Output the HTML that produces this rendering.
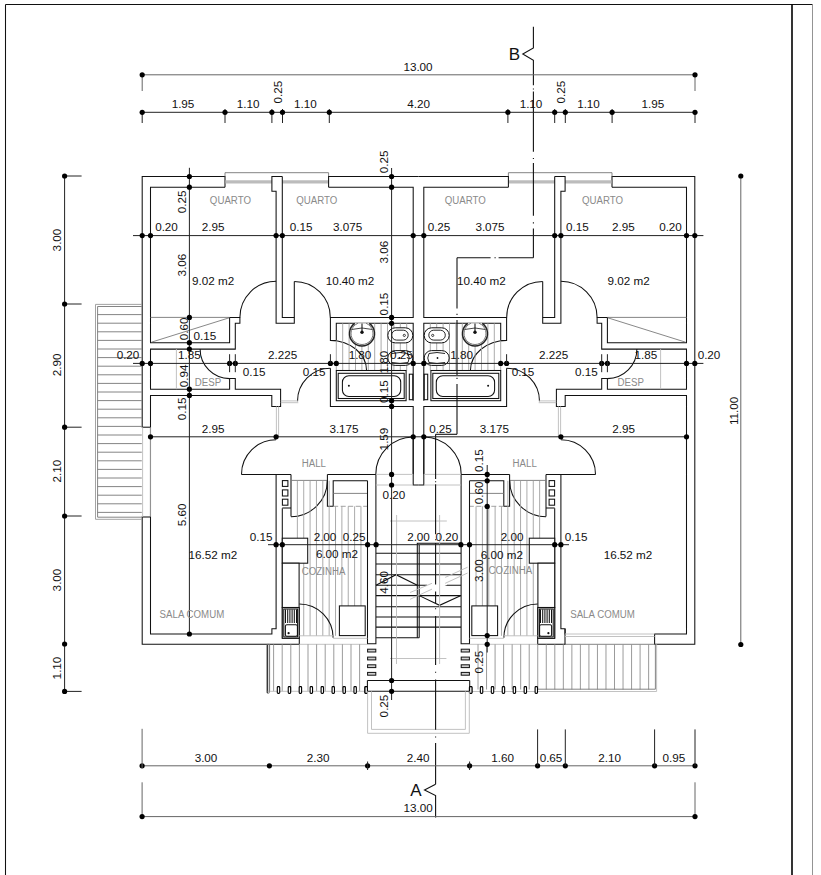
<!DOCTYPE html>
<html><head><meta charset="utf-8"><style>
html,body{margin:0;padding:0;background:#fff;}
svg{display:block;}
.w{fill:none;stroke:#111;stroke-width:1.05;}
.wf{fill:#fff;stroke:#111;stroke-width:1.05;}
.g{fill:none;stroke:#777;stroke-width:0.9;}
.gf{fill:#fff;stroke:#777;stroke-width:0.9;}
.lg{fill:none;stroke:#bbb;stroke-width:0.9;}
.tile{fill:none;stroke:#a2a2a2;stroke-width:0.9;}
.glass{fill:none;stroke:#bcbcbc;stroke-width:3.4;}
.d{fill:none;stroke:#222;stroke-width:1;}
.dg{fill:none;stroke:#666;stroke-width:1;}
.thin{fill:none;stroke:#555;stroke-width:0.7;}
.dot{fill:#000;}
.mg{fill:none;stroke:#999;stroke-width:0.9;}
.hat{fill:none;stroke:#909090;stroke-width:0.9;}
.post{fill:#fff;stroke:#000;stroke-width:1.1;}
.post2{fill:#d0d0d0;stroke:#111;stroke-width:1;}
.sec{fill:none;stroke:#111;stroke-width:1.1;}
text{font-family:"Liberation Sans",sans-serif;}
.t{font-size:11.7px;fill:#111;text-anchor:middle;}
.r{font-size:9.7px;fill:#8a8a8a;text-anchor:middle;}
.big{font-size:17px;fill:#111;text-anchor:middle;}
</style></head>
<body><svg width="821" height="875" viewBox="0 0 821 875">
<g id="m"><path class="w" d="M225,187.2 L225,176.5 L142.2,176.5 L142.2,644.3 L299.3,644.3 L299.3,607.5"/>
<path class="w" d="M225,187.2 L150.5,187.2 L150.5,342.7 L229.6,342.7 L229.6,317.4 L239.9,317.4 L239.9,323.3 L235.3,323.3 L235.3,349.1 L150.5,349.1 L150.5,389.2 L229.6,389.2 L229.6,378.4 L235.3,378.4 L235.3,389.2 L280.6,389.2 L280.6,406.4 L271.8,406.4 L271.8,395.4 L150.5,395.4 L150.5,634 L271.9,634 L271.9,628.7 L276.1,628.7 L276.1,474.4"/>
<line class="g" x1="225" y1="172.7" x2="328.6" y2="172.7"/>
<line class="g" x1="225" y1="172.7" x2="225" y2="176.5"/>
<line class="g" x1="328.6" y1="172.7" x2="328.6" y2="176.5"/>
<line class="glass" x1="225.5" y1="181.9" x2="271.9" y2="181.9"/>
<line class="glass" x1="282.3" y1="181.9" x2="328.1" y2="181.9"/>
<path class="w" d="M282.3,176.5 L271.9,176.5 L271.9,191.2 L276.1,191.2 L276.1,323.3 L294.3,323.3 L294.3,281.4"/>
<path class="w" d="M282.3,176.5 L282.3,317.4 L294.3,317.4"/>
<path class="w" d="M328.6,187.2 L328.6,176.5 L418.5,176.5"/>
<path class="w" d="M328.6,187.2 L413.2,187.2 L413.2,317.4 L330.4,317.4 L330.4,340.4 L336.3,340.4 L336.3,323.3 L413.2,323.3 L413.2,400.7"/>
<path class="w" d="M330.4,368.3 L330.4,406.4 L413.2,406.4 L413.2,485 L418.5,485"/>
<line class="w" x1="413.2" y1="437" x2="413.2" y2="474.4"/>
<path class="w" d="M239.9,317.4 A36.2,36.2 0 0 1 276.1,281.2"/>
<path class="w" d="M294.3,281.4 A36,36 0 0 1 330.3,317.4"/>
<path class="w" d="M229.6,378.6 A29.5,29.5 0 0 1 200.1,349.1"/>
<path class="w" d="M330.4,340.4 A36.2,30.3 0 0 1 366.6,370.7"/>
<line class="tile" x1="336.3" y1="340.4" x2="336.3" y2="370.5"/>
<path class="w" d="M297.5,401.2 A32.9,32.9 0 0 1 330.4,368.3"/>
<line class="lg" x1="280.6" y1="400.9" x2="298.3" y2="400.9"/>
<line class="lg" x1="280.6" y1="402.7" x2="298.3" y2="402.7"/>
<path class="w" d="M375.8,474.4 A37.4,37.4 0 0 1 413.2,437"/>
<line class="lg" x1="276.4" y1="406.4" x2="276.4" y2="436.8"/>
<line class="lg" x1="278.6" y1="406.4" x2="278.6" y2="436.8"/>
<path class="w" d="M241.5,474.4 A34.6,34.6 0 0 1 276.1,439.8"/>
<line class="w" x1="241.5" y1="474.4" x2="291" y2="474.4"/>
<line class="g" x1="150.5" y1="317.4" x2="229.6" y2="317.4"/>
<line class="thin" x1="151.4" y1="342.2" x2="229.2" y2="317.8"/>
<line class="lg" x1="176.4" y1="349.1" x2="176.4" y2="389.2"/>
<line class="w" x1="282.3" y1="508.3" x2="282.3" y2="638.4"/>
<line class="w" x1="282.3" y1="508" x2="291" y2="508"/>
<rect class="w" x="282.4" y="480.6" width="5.5" height="5.8"/>
<rect class="w" x="282.4" y="489.9" width="5.5" height="6.1"/>
<rect class="w" x="282.4" y="499.2" width="5.5" height="6"/>
<line class="w" x1="291" y1="474.4" x2="291" y2="516.5"/>
<path class="w" d="M327.3,480.4 A36.3,36.3 0 0 1 291,516.7"/>
<line class="g" x1="291" y1="480.4" x2="327.4" y2="480.4"/>
<path class="w" d="M327.4,474.4 L375.9,474.4"/>
<path class="w" d="M327.4,474.4 L327.4,506.3 L333.2,506.3 L333.2,480.8 L367.5,480.8"/>
<line class="tile" x1="297.36" y1="480.8" x2="297.36" y2="635.8"/>
<line class="tile" x1="303.72" y1="480.8" x2="303.72" y2="635.8"/>
<line class="tile" x1="310.08" y1="480.8" x2="310.08" y2="635.8"/>
<line class="tile" x1="316.44" y1="480.8" x2="316.44" y2="635.8"/>
<line class="tile" x1="322.8" y1="480.8" x2="322.8" y2="635.8"/>
<line class="tile" x1="329.16" y1="480.8" x2="329.16" y2="635.8"/>
<line class="tile" x1="335.52" y1="506.3" x2="335.52" y2="635.8"/>
<line class="tile" x1="341.88" y1="506.3" x2="341.88" y2="635.8"/>
<line class="tile" x1="348.24" y1="506.3" x2="348.24" y2="635.8"/>
<line class="tile" x1="354.6" y1="506.3" x2="354.6" y2="635.8"/>
<line class="tile" x1="360.96" y1="506.3" x2="360.96" y2="635.8"/>
<line class="g" x1="333.2" y1="493.4" x2="367.5" y2="493.4"/>
<line x1="333.2" y1="506.3" x2="367.5" y2="506.3" style="stroke:#999;stroke-width:0.9;stroke-dasharray:5 2.5"/>
<path class="w" d="M367.5,480.8 L367.5,643.8 L375.9,643.8 L375.9,474.4"/>
<rect class="wf" x="282.3" y="538.2" width="25.4" height="25"/>
<rect class="wf" x="282.3" y="563.2" width="16.8" height="44.3"/>
<rect class="wf" x="282.3" y="607.5" width="16.8" height="30.9"/>
<rect class="w" x="283.8" y="609" width="13.8" height="28"/>
<line class="w" x1="285.5" y1="609.5" x2="285.5" y2="623"/>
<line class="w" x1="287.7" y1="609.5" x2="287.7" y2="623"/>
<line class="w" x1="289.9" y1="609.5" x2="289.9" y2="623"/>
<line class="w" x1="292.1" y1="609.5" x2="292.1" y2="623"/>
<line class="w" x1="294.3" y1="609.5" x2="294.3" y2="623"/>
<line class="w" x1="296.5" y1="609.5" x2="296.5" y2="623"/>
<rect class="w" x="285.4" y="624.7" width="12" height="11.6" rx="1.5"/>
<circle cx="288.6" cy="633.2" r="1.1" fill="#111"/>
<path class="w" d="M299.3,603.9 A33.8,33.8 0 0 1 333.1,637.7"/>
<rect class="wf" x="339.4" y="605.9" width="25.8" height="29.7"/>
<line class="lg" x1="299.3" y1="635.8" x2="333.1" y2="635.8"/>
<line class="lg" x1="333.1" y1="638.3" x2="367.5" y2="638.3"/>
<line class="lg" x1="299.3" y1="644.3" x2="367.5" y2="644.3"/>
<line class="tile" x1="342.7" y1="323.3" x2="342.7" y2="370.5"/>
<line class="tile" x1="349.1" y1="323.3" x2="349.1" y2="370.5"/>
<line class="tile" x1="355.5" y1="323.3" x2="355.5" y2="370.5"/>
<line class="tile" x1="361.9" y1="323.3" x2="361.9" y2="370.5"/>
<line class="tile" x1="368.3" y1="323.3" x2="368.3" y2="370.5"/>
<line class="tile" x1="374.7" y1="323.3" x2="374.7" y2="370.5"/>
<line class="tile" x1="381.1" y1="323.3" x2="381.1" y2="370.5"/>
<line class="tile" x1="387.5" y1="323.3" x2="387.5" y2="370.5"/>
<line class="tile" x1="393.9" y1="323.3" x2="393.9" y2="370.5"/>
<line class="tile" x1="400.3" y1="323.3" x2="400.3" y2="370.5"/>
<line class="tile" x1="406.7" y1="323.3" x2="406.7" y2="370.5"/>
<path d="M354.77,323.3 A12.5,12.5 0 1 0 369.23,323.3" fill="#fff" stroke="#222" stroke-width="1.5"/>
<path d="M357.9,323.3 A11,11 0 1 0 366.1,323.3" fill="none" stroke="#666" stroke-width="0.9"/>
<path d="M351.5,329.5 Q362,326.5 372.5,329.5" fill="none" stroke="#333" stroke-width="0.9"/>
<line class="w" x1="362" y1="323.5" x2="362" y2="331"/>
<circle cx="362" cy="332.2" r="1.7" fill="#111"/>
<rect x="387.8" y="327.8" width="25" height="15.1" rx="7.5" fill="#fff" stroke="#111" stroke-width="1"/>
<rect x="391.7" y="330.2" width="16.5" height="9.9" rx="4.9" fill="none" stroke="#111" stroke-width="0.9"/>
<circle cx="404.3" cy="335.4" r="1.1" fill="none" stroke="#111" stroke-width="0.8"/>
<rect x="387.8" y="350.6" width="25" height="14.8" rx="7.4" fill="#fff" stroke="#111" stroke-width="1"/>
<path d="M392,353.5 Q400,351.5 408,353.5 Q410.5,358 408,362.5 Q400,364.5 392,362.5" fill="none" stroke="#111" stroke-width="0.9"/>
<circle cx="399.5" cy="358" r="0.9" fill="#111"/>
<rect class="wf" x="336.3" y="370.5" width="69.8" height="30.2"/>
<rect class="w" x="338.2" y="373.3" width="66" height="25.2"/>
<rect class="w" x="342.4" y="375.7" width="58.3" height="20.8" rx="6.5"/>
<circle cx="348.9" cy="385.8" r="1" fill="#111"/>
<rect class="w" x="409.3" y="374.2" width="3.5" height="25.5"/>
<line class="lg" x1="375.9" y1="485" x2="413.2" y2="485"/>
<line class="lg" x1="375.9" y1="474.4" x2="413.2" y2="474.4"/>
<rect class="post2" x="367.6" y="649.2" width="8.2" height="2.8"/>
<rect class="post2" x="367.6" y="657.1" width="8.2" height="2.8"/>
<rect class="post2" x="367.6" y="664.8" width="8.2" height="2.8"/>
<rect class="post2" x="367.6" y="672.4" width="8.2" height="2.8"/></g>
<g transform="matrix(-1,0,0,1,837,0)"><path class="w" d="M225,187.2 L225,176.5 L142.2,176.5 L142.2,644.3 L299.3,644.3 L299.3,607.5"/>
<path class="w" d="M225,187.2 L150.5,187.2 L150.5,342.7 L229.6,342.7 L229.6,317.4 L239.9,317.4 L239.9,323.3 L235.3,323.3 L235.3,349.1 L150.5,349.1 L150.5,389.2 L229.6,389.2 L229.6,378.4 L235.3,378.4 L235.3,389.2 L280.6,389.2 L280.6,406.4 L271.8,406.4 L271.8,395.4 L150.5,395.4 L150.5,634 L271.9,634 L271.9,628.7 L276.1,628.7 L276.1,474.4"/>
<line class="g" x1="225" y1="172.7" x2="328.6" y2="172.7"/>
<line class="g" x1="225" y1="172.7" x2="225" y2="176.5"/>
<line class="g" x1="328.6" y1="172.7" x2="328.6" y2="176.5"/>
<line class="glass" x1="225.5" y1="181.9" x2="271.9" y2="181.9"/>
<line class="glass" x1="282.3" y1="181.9" x2="328.1" y2="181.9"/>
<path class="w" d="M282.3,176.5 L271.9,176.5 L271.9,191.2 L276.1,191.2 L276.1,323.3 L294.3,323.3 L294.3,281.4"/>
<path class="w" d="M282.3,176.5 L282.3,317.4 L294.3,317.4"/>
<path class="w" d="M328.6,187.2 L328.6,176.5 L418.5,176.5"/>
<path class="w" d="M328.6,187.2 L413.2,187.2 L413.2,317.4 L330.4,317.4 L330.4,340.4 L336.3,340.4 L336.3,323.3 L413.2,323.3 L413.2,400.7"/>
<path class="w" d="M330.4,368.3 L330.4,406.4 L413.2,406.4 L413.2,485 L418.5,485"/>
<line class="w" x1="413.2" y1="437" x2="413.2" y2="474.4"/>
<path class="w" d="M239.9,317.4 A36.2,36.2 0 0 1 276.1,281.2"/>
<path class="w" d="M294.3,281.4 A36,36 0 0 1 330.3,317.4"/>
<path class="w" d="M229.6,378.6 A29.5,29.5 0 0 1 200.1,349.1"/>
<path class="w" d="M330.4,340.4 A36.2,30.3 0 0 1 366.6,370.7"/>
<line class="tile" x1="336.3" y1="340.4" x2="336.3" y2="370.5"/>
<path class="w" d="M297.5,401.2 A32.9,32.9 0 0 1 330.4,368.3"/>
<line class="lg" x1="280.6" y1="400.9" x2="298.3" y2="400.9"/>
<line class="lg" x1="280.6" y1="402.7" x2="298.3" y2="402.7"/>
<path class="w" d="M375.8,474.4 A37.4,37.4 0 0 1 413.2,437"/>
<line class="lg" x1="276.4" y1="406.4" x2="276.4" y2="436.8"/>
<line class="lg" x1="278.6" y1="406.4" x2="278.6" y2="436.8"/>
<path class="w" d="M241.5,474.4 A34.6,34.6 0 0 1 276.1,439.8"/>
<line class="w" x1="241.5" y1="474.4" x2="291" y2="474.4"/>
<line class="g" x1="150.5" y1="317.4" x2="229.6" y2="317.4"/>
<line class="thin" x1="151.4" y1="342.2" x2="229.2" y2="317.8"/>
<line class="lg" x1="176.4" y1="349.1" x2="176.4" y2="389.2"/>
<line class="w" x1="282.3" y1="508.3" x2="282.3" y2="638.4"/>
<line class="w" x1="282.3" y1="508" x2="291" y2="508"/>
<rect class="w" x="282.4" y="480.6" width="5.5" height="5.8"/>
<rect class="w" x="282.4" y="489.9" width="5.5" height="6.1"/>
<rect class="w" x="282.4" y="499.2" width="5.5" height="6"/>
<line class="w" x1="291" y1="474.4" x2="291" y2="516.5"/>
<path class="w" d="M327.3,480.4 A36.3,36.3 0 0 1 291,516.7"/>
<line class="g" x1="291" y1="480.4" x2="327.4" y2="480.4"/>
<path class="w" d="M327.4,474.4 L375.9,474.4"/>
<path class="w" d="M327.4,474.4 L327.4,506.3 L333.2,506.3 L333.2,480.8 L367.5,480.8"/>
<line class="tile" x1="297.36" y1="480.8" x2="297.36" y2="635.8"/>
<line class="tile" x1="303.72" y1="480.8" x2="303.72" y2="635.8"/>
<line class="tile" x1="310.08" y1="480.8" x2="310.08" y2="635.8"/>
<line class="tile" x1="316.44" y1="480.8" x2="316.44" y2="635.8"/>
<line class="tile" x1="322.8" y1="480.8" x2="322.8" y2="635.8"/>
<line class="tile" x1="329.16" y1="480.8" x2="329.16" y2="635.8"/>
<line class="tile" x1="335.52" y1="506.3" x2="335.52" y2="635.8"/>
<line class="tile" x1="341.88" y1="506.3" x2="341.88" y2="635.8"/>
<line class="tile" x1="348.24" y1="506.3" x2="348.24" y2="635.8"/>
<line class="tile" x1="354.6" y1="506.3" x2="354.6" y2="635.8"/>
<line class="tile" x1="360.96" y1="506.3" x2="360.96" y2="635.8"/>
<line class="g" x1="333.2" y1="493.4" x2="367.5" y2="493.4"/>
<line x1="333.2" y1="506.3" x2="367.5" y2="506.3" style="stroke:#999;stroke-width:0.9;stroke-dasharray:5 2.5"/>
<path class="w" d="M367.5,480.8 L367.5,643.8 L375.9,643.8 L375.9,474.4"/>
<rect class="wf" x="282.3" y="538.2" width="25.4" height="25"/>
<rect class="wf" x="282.3" y="563.2" width="16.8" height="44.3"/>
<rect class="wf" x="282.3" y="607.5" width="16.8" height="30.9"/>
<rect class="w" x="283.8" y="609" width="13.8" height="28"/>
<line class="w" x1="285.5" y1="609.5" x2="285.5" y2="623"/>
<line class="w" x1="287.7" y1="609.5" x2="287.7" y2="623"/>
<line class="w" x1="289.9" y1="609.5" x2="289.9" y2="623"/>
<line class="w" x1="292.1" y1="609.5" x2="292.1" y2="623"/>
<line class="w" x1="294.3" y1="609.5" x2="294.3" y2="623"/>
<line class="w" x1="296.5" y1="609.5" x2="296.5" y2="623"/>
<rect class="w" x="285.4" y="624.7" width="12" height="11.6" rx="1.5"/>
<circle cx="288.6" cy="633.2" r="1.1" fill="#111"/>
<path class="w" d="M299.3,603.9 A33.8,33.8 0 0 1 333.1,637.7"/>
<rect class="wf" x="339.4" y="605.9" width="25.8" height="29.7"/>
<line class="lg" x1="299.3" y1="635.8" x2="333.1" y2="635.8"/>
<line class="lg" x1="333.1" y1="638.3" x2="367.5" y2="638.3"/>
<line class="lg" x1="299.3" y1="644.3" x2="367.5" y2="644.3"/>
<line class="tile" x1="342.7" y1="323.3" x2="342.7" y2="370.5"/>
<line class="tile" x1="349.1" y1="323.3" x2="349.1" y2="370.5"/>
<line class="tile" x1="355.5" y1="323.3" x2="355.5" y2="370.5"/>
<line class="tile" x1="361.9" y1="323.3" x2="361.9" y2="370.5"/>
<line class="tile" x1="368.3" y1="323.3" x2="368.3" y2="370.5"/>
<line class="tile" x1="374.7" y1="323.3" x2="374.7" y2="370.5"/>
<line class="tile" x1="381.1" y1="323.3" x2="381.1" y2="370.5"/>
<line class="tile" x1="387.5" y1="323.3" x2="387.5" y2="370.5"/>
<line class="tile" x1="393.9" y1="323.3" x2="393.9" y2="370.5"/>
<line class="tile" x1="400.3" y1="323.3" x2="400.3" y2="370.5"/>
<line class="tile" x1="406.7" y1="323.3" x2="406.7" y2="370.5"/>
<path d="M354.77,323.3 A12.5,12.5 0 1 0 369.23,323.3" fill="#fff" stroke="#222" stroke-width="1.5"/>
<path d="M357.9,323.3 A11,11 0 1 0 366.1,323.3" fill="none" stroke="#666" stroke-width="0.9"/>
<path d="M351.5,329.5 Q362,326.5 372.5,329.5" fill="none" stroke="#333" stroke-width="0.9"/>
<line class="w" x1="362" y1="323.5" x2="362" y2="331"/>
<circle cx="362" cy="332.2" r="1.7" fill="#111"/>
<rect x="387.8" y="327.8" width="25" height="15.1" rx="7.5" fill="#fff" stroke="#111" stroke-width="1"/>
<rect x="391.7" y="330.2" width="16.5" height="9.9" rx="4.9" fill="none" stroke="#111" stroke-width="0.9"/>
<circle cx="404.3" cy="335.4" r="1.1" fill="none" stroke="#111" stroke-width="0.8"/>
<rect x="387.8" y="350.6" width="25" height="14.8" rx="7.4" fill="#fff" stroke="#111" stroke-width="1"/>
<path d="M392,353.5 Q400,351.5 408,353.5 Q410.5,358 408,362.5 Q400,364.5 392,362.5" fill="none" stroke="#111" stroke-width="0.9"/>
<circle cx="399.5" cy="358" r="0.9" fill="#111"/>
<rect class="wf" x="336.3" y="370.5" width="69.8" height="30.2"/>
<rect class="w" x="338.2" y="373.3" width="66" height="25.2"/>
<rect class="w" x="342.4" y="375.7" width="58.3" height="20.8" rx="6.5"/>
<circle cx="348.9" cy="385.8" r="1" fill="#111"/>
<rect class="w" x="409.3" y="374.2" width="3.5" height="25.5"/>
<line class="lg" x1="375.9" y1="485" x2="413.2" y2="485"/>
<line class="lg" x1="375.9" y1="474.4" x2="413.2" y2="474.4"/>
<rect class="post2" x="367.6" y="649.2" width="8.2" height="2.8"/>
<rect class="post2" x="367.6" y="657.1" width="8.2" height="2.8"/>
<rect class="post2" x="367.6" y="664.8" width="8.2" height="2.8"/>
<rect class="post2" x="367.6" y="672.4" width="8.2" height="2.8"/></g>
<line class="w" x1="5.5" y1="4.5" x2="812.5" y2="4.5"/>
<line class="w" x1="5.5" y1="4.5" x2="5.5" y2="875"/>
<line x1="792" y1="4.5" x2="792" y2="875" style="stroke:#000;stroke-width:1.6"/>
<line x1="812.5" y1="4.5" x2="812.5" y2="875" style="stroke:#888;stroke-width:0.9"/>
<rect x="141" y="427.6" width="10.2" height="88.8" fill="#fff"/>
<line class="w" x1="142.2" y1="427.2" x2="150.5" y2="427.2"/>
<line class="w" x1="142.2" y1="517" x2="150.5" y2="517"/>
<line class="g" x1="150.4" y1="427.2" x2="150.4" y2="517"/>
<line class="lg" x1="142.6" y1="427.2" x2="142.6" y2="517"/>
<path class="mg" d="M141.8,304.4 L95.5,304.4 L95.5,519.3 L141.8,519.3"/>
<path class="g" d="M141.8,306.5 L97.6,306.5 L97.6,517.2 L141.8,517.2"/>
<line class="g" x1="97.6" y1="314.6" x2="141.8" y2="314.6"/>
<line class="g" x1="97.6" y1="323.2" x2="141.8" y2="323.2"/>
<line class="g" x1="97.6" y1="331.8" x2="141.8" y2="331.8"/>
<line class="g" x1="97.6" y1="340.4" x2="141.8" y2="340.4"/>
<line class="g" x1="97.6" y1="349" x2="141.8" y2="349"/>
<line class="g" x1="97.6" y1="357.6" x2="141.8" y2="357.6"/>
<line class="g" x1="97.6" y1="366.2" x2="141.8" y2="366.2"/>
<line class="g" x1="97.6" y1="374.8" x2="141.8" y2="374.8"/>
<line class="g" x1="97.6" y1="383.4" x2="141.8" y2="383.4"/>
<line class="g" x1="97.6" y1="392" x2="141.8" y2="392"/>
<line class="g" x1="97.6" y1="400.6" x2="141.8" y2="400.6"/>
<line class="g" x1="97.6" y1="409.2" x2="141.8" y2="409.2"/>
<line class="g" x1="97.6" y1="417.8" x2="141.8" y2="417.8"/>
<line class="g" x1="97.6" y1="426.4" x2="141.8" y2="426.4"/>
<line class="g" x1="97.6" y1="435" x2="141.8" y2="435"/>
<line class="g" x1="97.6" y1="443.6" x2="141.8" y2="443.6"/>
<line class="g" x1="97.6" y1="452.2" x2="141.8" y2="452.2"/>
<line class="g" x1="97.6" y1="460.8" x2="141.8" y2="460.8"/>
<line class="g" x1="97.6" y1="469.4" x2="141.8" y2="469.4"/>
<line class="g" x1="97.6" y1="478" x2="141.8" y2="478"/>
<line class="g" x1="97.6" y1="486.6" x2="141.8" y2="486.6"/>
<line class="g" x1="97.6" y1="495.2" x2="141.8" y2="495.2"/>
<line class="g" x1="97.6" y1="503.8" x2="141.8" y2="503.8"/>
<line class="g" x1="97.6" y1="512.4" x2="141.8" y2="512.4"/>
<rect x="565.6" y="633" width="88.6" height="12.3" fill="#fff"/>
<line class="w" x1="565" y1="629" x2="565" y2="644.3"/>
<line class="w" x1="654.6" y1="634" x2="654.6" y2="644.3"/>
<line class="lg" x1="565" y1="634" x2="654.6" y2="634"/>
<line class="lg" x1="565" y1="636.5" x2="654.6" y2="636.5"/>
<line class="g" x1="565" y1="644.3" x2="654.6" y2="644.3"/>
<line class="w" x1="267.6" y1="644.3" x2="267.6" y2="693"/>
<line class="g" x1="269.6" y1="644.3" x2="269.6" y2="691.3"/>
<line class="hat" x1="273.6" y1="644.3" x2="273.6" y2="691.3"/>
<line class="hat" x1="282.2" y1="644.3" x2="282.2" y2="691.3"/>
<line class="hat" x1="290.8" y1="644.3" x2="290.8" y2="691.3"/>
<line class="hat" x1="299.4" y1="644.3" x2="299.4" y2="691.3"/>
<line class="hat" x1="308" y1="644.3" x2="308" y2="691.3"/>
<line class="hat" x1="316.6" y1="644.3" x2="316.6" y2="691.3"/>
<line class="hat" x1="325.2" y1="644.3" x2="325.2" y2="691.3"/>
<line class="hat" x1="333.8" y1="644.3" x2="333.8" y2="691.3"/>
<line class="hat" x1="342.4" y1="644.3" x2="342.4" y2="691.3"/>
<line class="hat" x1="351" y1="644.3" x2="351" y2="691.3"/>
<line class="hat" x1="359.6" y1="644.3" x2="359.6" y2="691.3"/>
<line class="lg" x1="267.6" y1="691.3" x2="367.5" y2="691.3"/>
<rect class="post" x="277.3" y="686.6" width="2.4" height="6.8" rx="0.8"/>
<rect class="post" x="288.25" y="686.6" width="2.4" height="6.8" rx="0.8"/>
<rect class="post" x="299.2" y="686.6" width="2.4" height="6.8" rx="0.8"/>
<rect class="post" x="310.15" y="686.6" width="2.4" height="6.8" rx="0.8"/>
<rect class="post" x="321.1" y="686.6" width="2.4" height="6.8" rx="0.8"/>
<rect class="post" x="332.05" y="686.6" width="2.4" height="6.8" rx="0.8"/>
<rect class="post" x="343" y="686.6" width="2.4" height="6.8" rx="0.8"/>
<rect class="post" x="353.95" y="686.6" width="2.4" height="6.8" rx="0.8"/>
<rect class="post" x="364.9" y="686.6" width="2.4" height="6.8" rx="0.8"/>
<rect class="g" x="266.8" y="644.3" width="2.6" height="49" rx="1"/>
<line class="hat" x1="478.03" y1="644.3" x2="478.03" y2="689.5"/>
<line class="hat" x1="486.56" y1="644.3" x2="486.56" y2="689.5"/>
<line class="hat" x1="495.09" y1="644.3" x2="495.09" y2="689.5"/>
<line class="hat" x1="503.62" y1="644.3" x2="503.62" y2="689.5"/>
<line class="hat" x1="512.15" y1="644.3" x2="512.15" y2="689.5"/>
<line class="hat" x1="520.68" y1="644.3" x2="520.68" y2="689.5"/>
<line class="hat" x1="529.21" y1="644.3" x2="529.21" y2="689.5"/>
<line class="hat" x1="537.74" y1="644.3" x2="537.74" y2="689.5"/>
<line class="hat" x1="546.27" y1="644.3" x2="546.27" y2="689.5"/>
<line class="hat" x1="554.8" y1="644.3" x2="554.8" y2="689.5"/>
<line class="hat" x1="563.33" y1="644.3" x2="563.33" y2="689.5"/>
<line class="hat" x1="571.86" y1="644.3" x2="571.86" y2="689.5"/>
<line class="hat" x1="580.39" y1="644.3" x2="580.39" y2="689.5"/>
<line class="hat" x1="588.92" y1="644.3" x2="588.92" y2="689.5"/>
<line class="hat" x1="597.45" y1="644.3" x2="597.45" y2="689.5"/>
<line class="hat" x1="605.98" y1="644.3" x2="605.98" y2="689.5"/>
<line class="hat" x1="614.51" y1="644.3" x2="614.51" y2="689.5"/>
<line class="hat" x1="623.04" y1="644.3" x2="623.04" y2="689.5"/>
<line class="hat" x1="631.57" y1="644.3" x2="631.57" y2="689.5"/>
<line class="hat" x1="640.1" y1="644.3" x2="640.1" y2="689.5"/>
<line class="hat" x1="648.63" y1="644.3" x2="648.63" y2="689.5"/>
<path class="g" d="M537.7,689.2 L655.4,689.2 L655.4,644.3"/>
<path class="lg" d="M469.5,691.5 L656.6,691.5 L656.6,644.3"/>
<rect class="post" x="469.4" y="686.6" width="2.4" height="6.8" rx="0.8"/>
<rect class="post" x="480.35" y="686.6" width="2.4" height="6.8" rx="0.8"/>
<rect class="post" x="491.3" y="686.6" width="2.4" height="6.8" rx="0.8"/>
<rect class="post" x="502.25" y="686.6" width="2.4" height="6.8" rx="0.8"/>
<rect class="post" x="513.2" y="686.6" width="2.4" height="6.8" rx="0.8"/>
<rect class="post" x="524.15" y="686.6" width="2.4" height="6.8" rx="0.8"/>
<rect class="post" x="535.1" y="686.6" width="2.4" height="6.8" rx="0.8"/>
<line class="w" x1="376" y1="553.3" x2="461" y2="553.3"/>
<line class="w" x1="376" y1="564" x2="461" y2="564"/>
<line class="w" x1="376" y1="574.7" x2="461" y2="574.7"/>
<line class="w" x1="376" y1="585.3" x2="461" y2="585.3"/>
<line class="w" x1="376" y1="595.6" x2="461" y2="595.6"/>
<line class="w" x1="376" y1="606.7" x2="461" y2="606.7"/>
<line class="w" x1="376" y1="617" x2="461" y2="617"/>
<line class="w" x1="376" y1="627.1" x2="461" y2="627.1"/>
<line class="w" x1="376" y1="637.8" x2="419.2" y2="637.8"/>
<path class="w" d="M417.3,637.8 L417.3,543.2 L461,543.2"/>
<line class="w" x1="419.2" y1="637.8" x2="419.2" y2="545"/>
<path class="w" d="M376,585.3 L396,574.7 L417.3,585.3"/>
<path class="w" d="M419.2,595.6 L439.6,605.3 L461,595.6"/>
<polygon points="427,584.2 447,575.8 447,585 427,593.4" fill="#fff"/>
<line class="lg" x1="410.1" y1="592.5" x2="432" y2="583.3"/>
<line class="lg" x1="445.2" y1="577.4" x2="467.6" y2="567.2"/>
<line class="lg" x1="410.1" y1="599.3" x2="432" y2="589.1"/>
<line class="lg" x1="445.2" y1="583.3" x2="467.6" y2="573"/>
<line class="lg" x1="396.5" y1="545" x2="396.5" y2="664"/>
<line class="lg" x1="439.6" y1="515" x2="439.6" y2="664"/>
<line class="lg" x1="396.6" y1="515" x2="396.6" y2="545"/>
<line class="lg" x1="390" y1="521" x2="446.8" y2="521"/>
<line class="lg" x1="390" y1="658.5" x2="446.4" y2="658.5"/>
<line class="w" x1="367.4" y1="680.5" x2="469.7" y2="680.5"/>
<line class="w" x1="367.4" y1="691.3" x2="469.7" y2="691.3"/>
<line class="w" x1="367.4" y1="680.5" x2="367.4" y2="691.3"/>
<line class="w" x1="469.7" y1="680.5" x2="469.7" y2="691.3"/>
<rect class="post" x="365" y="686.6" width="2.4" height="6.8" rx="0.8"/>
<rect class="post" x="469.6" y="686.6" width="2.4" height="6.8" rx="0.8"/>
<path class="lg" d="M367.6,691.3 L367.6,733.3 L469.3,733.3 L469.3,691.3"/>
<path class="lg" d="M371.5,691.3 L371.5,729.4 L465.4,729.4 L465.4,691.3"/>
<path class="sec" d="M533.4,26.7 V48 L522.8,54 L533.4,60.2 V85.2"/>
<line class="sec" x1="533.4" y1="88.4" x2="533.4" y2="89.6"/>
<line class="sec" x1="533.4" y1="91.5" x2="533.4" y2="151.8"/>
<line class="sec" x1="533.4" y1="157.9" x2="533.4" y2="159.1"/>
<line class="sec" x1="533.4" y1="163" x2="533.4" y2="215.8"/>
<line class="sec" x1="533.4" y1="222.3" x2="533.4" y2="223.5"/>
<line class="sec" x1="533.4" y1="228.4" x2="533.4" y2="257.8"/>
<line class="sec" x1="498.6" y1="257.8" x2="533.4" y2="257.8"/>
<line class="sec" x1="494.5" y1="257.8" x2="495.7" y2="257.8"/>
<line class="sec" x1="457" y1="257.8" x2="490.6" y2="257.8"/>
<line class="sec" x1="457" y1="257.8" x2="457" y2="308.6"/>
<line class="sec" x1="457" y1="313.7" x2="457" y2="314.9"/>
<line class="sec" x1="457" y1="320" x2="457" y2="374.9"/>
<line class="sec" x1="457" y1="377.7" x2="457" y2="378.9"/>
<line class="sec" x1="457" y1="384" x2="457" y2="434.3"/>
<line class="sec" x1="435.6" y1="434.3" x2="457" y2="434.3"/>
<line class="sec" x1="435.6" y1="434.3" x2="435.6" y2="478.9"/>
<line class="sec" x1="435.6" y1="481.2" x2="435.6" y2="482.2"/>
<line class="sec" x1="435.6" y1="484.3" x2="435.6" y2="534.3"/>
<line class="sec" x1="435.6" y1="539.3" x2="435.6" y2="540.3"/>
<line class="sec" x1="435.6" y1="543" x2="435.6" y2="584.5"/>
<line class="sec" x1="435.6" y1="591.5" x2="435.6" y2="603.2"/>
<line class="sec" x1="435.6" y1="608.2" x2="435.6" y2="609.2"/>
<line class="sec" x1="435.6" y1="615.9" x2="435.6" y2="665"/>
<line class="sec" x1="435.6" y1="671.7" x2="435.6" y2="672.7"/>
<line class="sec" x1="435.6" y1="679.4" x2="435.6" y2="729.7"/>
<line class="sec" x1="435.6" y1="736.4" x2="435.6" y2="737.4"/>
<line class="sec" x1="435.6" y1="742.9" x2="435.6" y2="784.2"/>
<path class="sec" d="M435.6,784.2 L424.5,789.9 L435.6,795.5 V817.4"/>
<line class="dg" x1="142.2" y1="74.8" x2="695" y2="74.8"/>
<line class="dg" x1="142.2" y1="74.8" x2="142.2" y2="91"/>
<line class="dg" x1="695" y1="74.8" x2="695" y2="91"/>
<circle class="dot" cx="142.2" cy="74.8" r="2.6"/>
<circle class="dot" cx="695" cy="74.8" r="2.6"/>
<line class="d" x1="142.2" y1="112.3" x2="695" y2="112.3"/>
<line class="d" x1="142.2" y1="112.3" x2="142.2" y2="123"/>
<circle class="dot" cx="142.2" cy="112.3" r="2.6"/>
<line class="d" x1="225" y1="109" x2="225" y2="123"/>
<circle class="dot" cx="225" cy="112.3" r="2.6"/>
<line class="d" x1="271.9" y1="109" x2="271.9" y2="123"/>
<circle class="dot" cx="271.9" cy="112.3" r="2.6"/>
<line class="d" x1="282.5" y1="109" x2="282.5" y2="123"/>
<circle class="dot" cx="282.5" cy="112.3" r="2.6"/>
<line class="d" x1="329.3" y1="109" x2="329.3" y2="123"/>
<circle class="dot" cx="329.3" cy="112.3" r="2.6"/>
<line class="d" x1="507.9" y1="109" x2="507.9" y2="123"/>
<circle class="dot" cx="507.9" cy="112.3" r="2.6"/>
<line class="d" x1="554.7" y1="109" x2="554.7" y2="123"/>
<circle class="dot" cx="554.7" cy="112.3" r="2.6"/>
<line class="d" x1="565.3" y1="109" x2="565.3" y2="123"/>
<circle class="dot" cx="565.3" cy="112.3" r="2.6"/>
<line class="d" x1="612.1" y1="109" x2="612.1" y2="123"/>
<circle class="dot" cx="612.1" cy="112.3" r="2.6"/>
<line class="d" x1="695" y1="112.3" x2="695" y2="123"/>
<circle class="dot" cx="695" cy="112.3" r="2.6"/>
<line class="d" x1="64.6" y1="176" x2="64.6" y2="691.4"/>
<line class="d" x1="64.6" y1="176" x2="81.6" y2="176"/>
<line class="d" x1="64.6" y1="304" x2="81.6" y2="304"/>
<line class="d" x1="64.6" y1="427.2" x2="81.6" y2="427.2"/>
<line class="d" x1="64.6" y1="516" x2="81.6" y2="516"/>
<line class="d" x1="64.6" y1="691.4" x2="81.6" y2="691.4"/>
<circle class="dot" cx="64.6" cy="176" r="2.6"/>
<circle class="dot" cx="64.6" cy="304" r="2.6"/>
<circle class="dot" cx="64.6" cy="427.2" r="2.6"/>
<circle class="dot" cx="64.6" cy="516" r="2.6"/>
<circle class="dot" cx="64.6" cy="644" r="2.6"/>
<circle class="dot" cx="64.6" cy="691.4" r="2.6"/>
<line class="dg" x1="740.8" y1="176" x2="740.8" y2="644.5"/>
<circle class="dot" cx="740.8" cy="176" r="2.6"/>
<circle class="dot" cx="740.8" cy="644.5" r="2.6"/>
<line class="dg" x1="142.1" y1="765.8" x2="695" y2="765.8"/>
<circle class="dot" cx="142.1" cy="765.8" r="2.6"/>
<circle class="dot" cx="269.4" cy="765.8" r="2.6"/>
<circle class="dot" cx="367.6" cy="765.8" r="2.6"/>
<circle class="dot" cx="469.6" cy="765.8" r="2.6"/>
<circle class="dot" cx="537.6" cy="765.8" r="2.6"/>
<circle class="dot" cx="565.3" cy="765.8" r="2.6"/>
<circle class="dot" cx="654.6" cy="765.8" r="2.6"/>
<circle class="dot" cx="695" cy="765.8" r="2.6"/>
<line class="dg" x1="142.1" y1="728.8" x2="142.1" y2="768"/>
<line class="d" x1="537.6" y1="729.4" x2="537.6" y2="766"/>
<line class="d" x1="565.3" y1="729.4" x2="565.3" y2="766"/>
<line class="d" x1="654.6" y1="729.4" x2="654.6" y2="766"/>
<line class="d" x1="695" y1="729.4" x2="695" y2="766"/>
<line class="d" x1="367.6" y1="761.5" x2="367.6" y2="770"/>
<line class="d" x1="469.6" y1="761.5" x2="469.6" y2="770"/>
<line class="dg" x1="142.1" y1="816.6" x2="695" y2="816.6"/>
<line class="dg" x1="142.1" y1="782.3" x2="142.1" y2="819"/>
<line class="dg" x1="695" y1="782.3" x2="695" y2="819"/>
<circle class="dot" cx="142.1" cy="816.6" r="2.6"/>
<circle class="dot" cx="695" cy="816.6" r="2.6"/>
<line class="d" x1="133" y1="235.6" x2="703.4" y2="235.6"/>
<circle class="dot" cx="142.2" cy="235.6" r="2.6"/>
<circle class="dot" cx="150.5" cy="235.6" r="2.6"/>
<circle class="dot" cx="276.1" cy="235.6" r="2.6"/>
<circle class="dot" cx="282.3" cy="235.6" r="2.6"/>
<circle class="dot" cx="413.2" cy="235.6" r="2.6"/>
<circle class="dot" cx="423.8" cy="235.6" r="2.6"/>
<circle class="dot" cx="554.7" cy="235.6" r="2.6"/>
<circle class="dot" cx="560.9" cy="235.6" r="2.6"/>
<circle class="dot" cx="686.5" cy="235.6" r="2.6"/>
<circle class="dot" cx="694.8" cy="235.6" r="2.6"/>
<line class="d" x1="133" y1="363.4" x2="703.4" y2="363.4"/>
<circle class="dot" cx="142.2" cy="363.4" r="2.6"/>
<circle class="dot" cx="150.5" cy="363.4" r="2.6"/>
<circle class="dot" cx="229.6" cy="363.4" r="2.6"/>
<circle class="dot" cx="235.3" cy="363.4" r="2.6"/>
<circle class="dot" cx="330.4" cy="363.4" r="2.6"/>
<circle class="dot" cx="336.3" cy="363.4" r="2.6"/>
<circle class="dot" cx="413.2" cy="363.4" r="2.6"/>
<circle class="dot" cx="423.8" cy="363.4" r="2.6"/>
<circle class="dot" cx="500.7" cy="363.4" r="2.6"/>
<circle class="dot" cx="506.6" cy="363.4" r="2.6"/>
<circle class="dot" cx="601.7" cy="363.4" r="2.6"/>
<circle class="dot" cx="607.4" cy="363.4" r="2.6"/>
<circle class="dot" cx="686.5" cy="363.4" r="2.6"/>
<circle class="dot" cx="694.8" cy="363.4" r="2.6"/>
<line class="d" x1="229.6" y1="354.2" x2="229.6" y2="372.2"/>
<line class="d" x1="235.3" y1="354.2" x2="235.3" y2="372.2"/>
<line class="d" x1="601.7" y1="354.2" x2="601.7" y2="372.2"/>
<line class="d" x1="607.4" y1="354.2" x2="607.4" y2="372.2"/>
<line class="d" x1="330.4" y1="354.2" x2="330.4" y2="363.4"/>
<line class="d" x1="506.6" y1="354.2" x2="506.6" y2="363.4"/>
<line class="d" x1="150.5" y1="436.8" x2="686.5" y2="436.8"/>
<circle class="dot" cx="150.5" cy="436.8" r="2.6"/>
<circle class="dot" cx="276.1" cy="436.8" r="2.6"/>
<circle class="dot" cx="413.2" cy="436.8" r="2.6"/>
<circle class="dot" cx="423.8" cy="436.8" r="2.6"/>
<circle class="dot" cx="560.9" cy="436.8" r="2.6"/>
<circle class="dot" cx="686.5" cy="436.8" r="2.6"/>
<line class="d" x1="268" y1="544.7" x2="569" y2="544.7"/>
<circle class="dot" cx="276.1" cy="544.7" r="2.6"/>
<circle class="dot" cx="282.3" cy="544.7" r="2.6"/>
<circle class="dot" cx="367.6" cy="544.7" r="2.6"/>
<circle class="dot" cx="376.1" cy="544.7" r="2.6"/>
<circle class="dot" cx="460.9" cy="544.7" r="2.6"/>
<circle class="dot" cx="469.5" cy="544.7" r="2.6"/>
<circle class="dot" cx="554.7" cy="544.7" r="2.6"/>
<circle class="dot" cx="560.9" cy="544.7" r="2.6"/>
<line class="d" x1="189.4" y1="167.8" x2="189.4" y2="634"/>
<circle class="dot" cx="189.4" cy="176.5" r="2.6"/>
<circle class="dot" cx="189.4" cy="187.2" r="2.6"/>
<circle class="dot" cx="189.4" cy="317.4" r="2.6"/>
<circle class="dot" cx="189.4" cy="342.7" r="2.6"/>
<circle class="dot" cx="189.4" cy="349.1" r="2.6"/>
<circle class="dot" cx="189.4" cy="389.2" r="2.6"/>
<circle class="dot" cx="189.4" cy="395.4" r="2.6"/>
<circle class="dot" cx="189.4" cy="634" r="2.6"/>
<line class="d" x1="391.6" y1="168" x2="391.6" y2="700"/>
<circle class="dot" cx="391.6" cy="176.5" r="2.6"/>
<circle class="dot" cx="391.6" cy="187.2" r="2.6"/>
<circle class="dot" cx="391.6" cy="317.4" r="2.6"/>
<circle class="dot" cx="391.6" cy="323.3" r="2.6"/>
<circle class="dot" cx="391.6" cy="400.7" r="2.6"/>
<circle class="dot" cx="391.6" cy="406.4" r="2.6"/>
<circle class="dot" cx="391.6" cy="474.4" r="2.6"/>
<circle class="dot" cx="391.6" cy="485" r="2.6"/>
<circle class="dot" cx="391.6" cy="680.5" r="2.6"/>
<circle class="dot" cx="391.6" cy="691.3" r="2.6"/>
<line class="d" x1="487.2" y1="465" x2="487.2" y2="652.5"/>
<circle class="dot" cx="487.2" cy="474.4" r="2.6"/>
<circle class="dot" cx="487.2" cy="480.8" r="2.6"/>
<circle class="dot" cx="487.2" cy="506.4" r="2.6"/>
<circle class="dot" cx="487.2" cy="635.5" r="2.6"/>
<circle class="dot" cx="487.2" cy="644.3" r="2.6"/>
<text class="t" x="418" y="71">13.00</text>
<text class="t" x="183" y="108.3">1.95</text>
<text class="t" x="248.1" y="108.3">1.10</text>
<text class="t" x="305.4" y="108.3">1.10</text>
<text class="t" x="418.7" y="108.3">4.20</text>
<text class="t" x="531" y="108.3">1.10</text>
<text class="t" x="588.5" y="108.3">1.10</text>
<text class="t" x="652.8" y="108.3">1.95</text>
<text class="t" transform="translate(282.3,92.2) rotate(-90)" x="0" y="0">0.25</text>
<text class="t" transform="translate(565.2,92.2) rotate(-90)" x="0" y="0">0.25</text>
<text class="big" x="514.5" y="60.2">B</text>
<text class="big" x="415.9" y="795.5">A</text>
<text class="t" transform="translate(61,240) rotate(-90)" x="0" y="0">3.00</text>
<text class="t" transform="translate(61,364.8) rotate(-90)" x="0" y="0">2.90</text>
<text class="t" transform="translate(61,471.2) rotate(-90)" x="0" y="0">2.10</text>
<text class="t" transform="translate(61,580) rotate(-90)" x="0" y="0">3.00</text>
<text class="t" transform="translate(61,668) rotate(-90)" x="0" y="0">1.10</text>
<text class="t" transform="translate(737.5,410.9) rotate(-90)" x="0" y="0">11.00</text>
<text class="t" x="206" y="761.7">3.00</text>
<text class="t" x="318.2" y="761.7">2.30</text>
<text class="t" x="418.1" y="761.7">2.40</text>
<text class="t" x="502.7" y="761.7">1.60</text>
<text class="t" x="551" y="761.7">0.65</text>
<text class="t" x="609.6" y="761.7">2.10</text>
<text class="t" x="673.8" y="761.7">0.95</text>
<text class="t" x="418.1" y="811.8">13.00</text>
<text class="t" x="166.5" y="230.8">0.20</text>
<text class="t" x="213.2" y="230.8">2.95</text>
<text class="t" x="301.2" y="230.8">0.15</text>
<text class="t" x="347.6" y="230.8">3.075</text>
<text class="t" x="439" y="230.8">0.25</text>
<text class="t" x="490" y="230.8">3.075</text>
<text class="t" x="577.3" y="230.8">0.15</text>
<text class="t" x="623.3" y="230.8">2.95</text>
<text class="t" x="670.5" y="230.8">0.20</text>
<text class="t" transform="translate(186,201.9) rotate(-90)" x="0" y="0">0.25</text>
<text class="t" transform="translate(186,265) rotate(-90)" x="0" y="0">3.06</text>
<text class="t" transform="translate(186,408.9) rotate(-90)" x="0" y="0">0.15</text>
<text class="t" transform="translate(186,514.8) rotate(-90)" x="0" y="0">5.60</text>
<text class="t" transform="translate(188.2,328.8) rotate(-90)" x="0" y="0">0.60</text>
<text class="t" transform="translate(188.2,375.8) rotate(-90)" x="0" y="0">0.94</text>
<text class="t" transform="translate(388,161.8) rotate(-90)" x="0" y="0">0.25</text>
<text class="t" transform="translate(388,252) rotate(-90)" x="0" y="0">3.06</text>
<text class="t" transform="translate(388,304) rotate(-90)" x="0" y="0">0.15</text>
<text class="t" transform="translate(388,362) rotate(-90)" x="0" y="0">1.80</text>
<text class="t" transform="translate(388,391.7) rotate(-90)" x="0" y="0">0.15</text>
<text class="t" transform="translate(388,439) rotate(-90)" x="0" y="0">1.59</text>
<text class="t" transform="translate(388,582.4) rotate(-90)" x="0" y="0">4.60</text>
<text class="t" transform="translate(388,706) rotate(-90)" x="0" y="0">0.25</text>
<text class="t" transform="translate(483,460.7) rotate(-90)" x="0" y="0">0.15</text>
<text class="t" transform="translate(483,492.8) rotate(-90)" x="0" y="0">0.60</text>
<text class="t" transform="translate(483,570.5) rotate(-90)" x="0" y="0">3.00</text>
<text class="t" transform="translate(483,662) rotate(-90)" x="0" y="0">0.25</text>
<text class="t" x="128" y="359.1">0.20</text>
<text class="t" x="189.4" y="359.1">1.85</text>
<text class="t" x="282.7" y="359.1">2.225</text>
<text class="t" x="360" y="359.1">1.80</text>
<text class="t" x="401.4" y="359.1">0.25</text>
<text class="t" x="461.6" y="359.1">1.80</text>
<text class="t" x="553.7" y="359.1">2.225</text>
<text class="t" x="645.8" y="359.1">1.85</text>
<text class="t" x="709" y="359.1">0.20</text>
<text class="t" x="254.2" y="376.2">0.15</text>
<text class="t" x="314.2" y="376.2">0.15</text>
<text class="t" x="523" y="376.2">0.15</text>
<text class="t" x="586.4" y="376.2">0.15</text>
<text class="t" x="204.8" y="339.6">0.15</text>
<text class="t" x="213.2" y="432.7">2.95</text>
<text class="t" x="344" y="432.7">3.175</text>
<text class="t" x="440.5" y="432.7">0.25</text>
<text class="t" x="494.4" y="432.7">3.175</text>
<text class="t" x="623.6" y="432.7">2.95</text>
<text class="t" x="393.8" y="498.7">0.20</text>
<text class="t" x="261.2" y="540.5">0.15</text>
<text class="t" x="325" y="540.5">2.00</text>
<text class="t" x="354.2" y="540.5">0.25</text>
<text class="t" x="418.5" y="540.5">2.00</text>
<text class="t" x="446.8" y="540.5">0.20</text>
<text class="t" x="512.1" y="540.5">2.00</text>
<text class="t" x="576.2" y="540.5">0.15</text>
<text class="t" x="213.2" y="285">9.02 m2</text>
<text class="t" x="350" y="284.6">10.40 m2</text>
<text class="t" x="481.4" y="284.6">10.40 m2</text>
<text class="t" x="628.7" y="284.6">9.02 m2</text>
<text class="t" x="212.8" y="558.9">16.52 m2</text>
<text class="t" x="337" y="558.4">6.00 m2</text>
<text class="t" x="501.9" y="558.6">6.00 m2</text>
<text class="t" x="628" y="558.6">16.52 m2</text>
<text class="r" transform="translate(230.4,203.9) scale(1,1.14)">QUARTO</text>
<text class="r" transform="translate(316.8,203.9) scale(1,1.14)">QUARTO</text>
<text class="r" transform="translate(465.3,203.9) scale(1,1.14)">QUARTO</text>
<text class="r" transform="translate(602.5,203.9) scale(1,1.14)">QUARTO</text>
<text class="r" transform="translate(207.9,386.4) scale(1,1.14)">DESP</text>
<text class="r" transform="translate(630.8,385.9) scale(1,1.14)">DESP</text>
<text class="r" transform="translate(313.8,466.7) scale(1,1.14)">HALL</text>
<text class="r" transform="translate(524.7,466.5) scale(1,1.14)">HALL</text>
<text class="r" transform="translate(323.6,574.6) scale(1,1.14)">COZINHA</text>
<text class="r" transform="translate(510.4,574.2) scale(1,1.14)">COZINHA</text>
<text class="r" transform="translate(191.9,618) scale(1,1.14)">SALA COMUM</text>
<text class="r" transform="translate(602.5,618.3) scale(1,1.14)">SALA COMUM</text>
</svg></body></html>
